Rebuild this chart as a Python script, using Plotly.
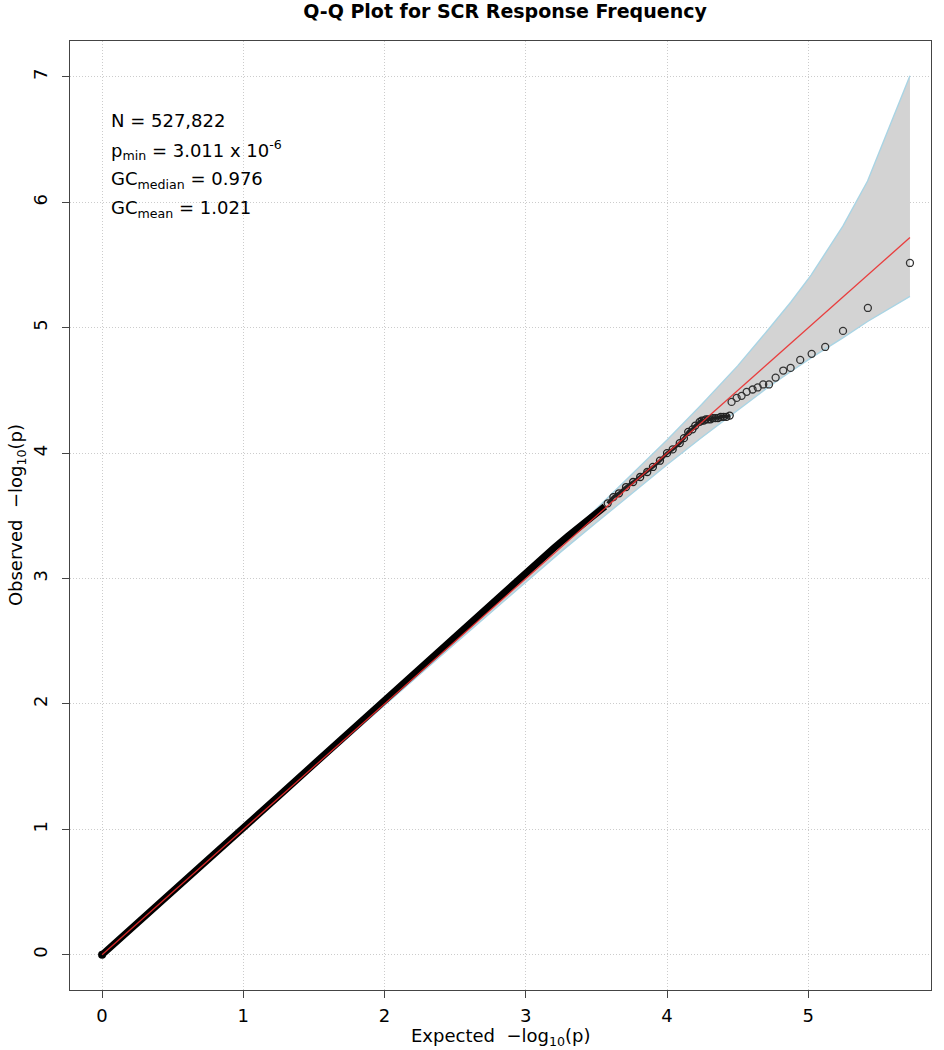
import plotly.graph_objects as go

# confidence band
band_x = [0.0, 1.0, 2.0, 2.5, 3.0, 3.25, 3.5, 3.72, 4.0, 4.245, 4.5, 4.72, 4.877, 5.02, 5.245, 5.42, 5.72]
band_up = [0.0, 1.003, 2.01, 2.518, 3.032, 3.29, 3.557, 3.795, 4.105, 4.388, 4.696, 4.99, 5.206, 5.42, 5.81, 6.17, 7.01]
band_lo = [0.0, 0.997, 1.99, 2.482, 2.970, 3.215, 3.447, 3.652, 3.908, 4.125, 4.345, 4.53, 4.651, 4.76, 4.92, 5.05, 5.25]

# dense part of the observed points
dense_exp = [0.0, 0.25, 0.5, 0.75, 1.0, 1.25, 1.5, 1.75, 2.0, 2.25, 2.5, 2.75, 2.9, 3.0, 3.1, 3.2, 3.3, 3.4, 3.5, 3.56]
dense_obs = [0.0, 0.25, 0.505, 0.76, 1.01, 1.265, 1.52, 1.775, 2.02, 2.28, 2.54, 2.8, 2.955, 3.055, 3.15, 3.245, 3.34, 3.43, 3.52, 3.575]

# overlapping circles
mid_exp = [3.58, 3.62, 3.66, 3.71, 3.76, 3.81, 3.86, 3.90, 3.95, 4.00, 4.04, 4.09, 4.12, 4.15, 4.18, 4.20,
           4.231, 4.245, 4.260, 4.275, 4.291, 4.308, 4.324, 4.342, 4.361, 4.380, 4.400, 4.421, 4.444]
mid_obs = [3.60, 3.65, 3.68, 3.73, 3.77, 3.81, 3.85, 3.89, 3.94, 4.00, 4.03, 4.08, 4.12, 4.17, 4.19, 4.22,
           4.25, 4.26, 4.26, 4.27, 4.27, 4.27, 4.28, 4.28, 4.28, 4.29, 4.29, 4.29, 4.30]

# top hits
tail_exp = [4.457, 4.493, 4.528, 4.564, 4.606, 4.642, 4.681, 4.722, 4.769, 4.823, 4.875, 4.943, 5.024, 5.120, 5.246, 5.422, 5.720]
tail_obs = [4.409, 4.441, 4.457, 4.489, 4.508, 4.524, 4.548, 4.548, 4.603, 4.659, 4.680, 4.744, 4.792, 4.847, 4.975, 5.158, 5.517]

diag = [0.0, 5.72]

stats = ["N = 527,822",
         "p<sub>min</sub> = 3.011 x 10<sup>-6</sup>",
         "GC<sub>median</sub> = 0.976",
         "GC<sub>mean</sub> = 1.021"]
stats_y = [6.65, 6.42, 6.18, 5.95]

FONT = "DejaVu Sans"

fig = go.Figure()

# grey band
fig.add_trace(go.Scatter(
    x=band_x + band_x[::-1],
    y=band_up + band_lo[::-1],
    fill='toself', fillcolor='#d3d3d3',
    line=dict(width=0), mode='lines', hoverinfo='skip',
))
fig.add_trace(go.Scatter(x=band_x, y=band_up, mode='lines', line=dict(color='#a9d4e4', width=1.4)))
fig.add_trace(go.Scatter(x=band_x, y=band_lo, mode='lines', line=dict(color='#a9d4e4', width=1.4)))

fig.add_trace(go.Scatter(
    x=dense_exp, y=dense_obs, mode='lines',
    line=dict(color='black', width=7),
))
fig.add_trace(go.Scatter(
    x=dense_exp[:1], y=dense_obs[:1], mode='markers',
    marker=dict(color='black', size=8),
))
fig.add_trace(go.Scatter(
    x=mid_exp, y=mid_obs, mode='lines+markers',
    line=dict(color='#222', width=3.5),
    marker=dict(symbol='circle-open', size=7, color='#222', line=dict(width=1.3)),
))
fig.add_trace(go.Scatter(
    x=tail_exp, y=tail_obs, mode='markers',
    marker=dict(symbol='circle-open', size=7, color='#333', line=dict(width=1.3)),
))

fig.add_trace(go.Scatter(x=diag, y=diag, mode='lines', line=dict(color='rgba(235,45,45,0.9)', width=1.3)))

for t, yy in zip(stats, stats_y):
    fig.add_annotation(x=0.05, y=yy, xref='x', yref='y', text=t, showarrow=False,
                       xanchor='left', yanchor='middle', font=dict(size=18, color='black', family=FONT))

fig.add_annotation(x=0.5, y=-0.05, xref='paper', yref='paper', text="Expected  \u2212log<sub>10</sub>(p)",
                   showarrow=False, xanchor='center', yanchor='middle', font=dict(size=18, color='black', family=FONT))
fig.add_annotation(x=-0.062, y=0.5, xref='paper', yref='paper', text="Observed  \u2212log<sub>10</sub>(p)",
                   textangle=-90, showarrow=False, xanchor='center', yanchor='middle',
                   font=dict(size=18, color='black', family=FONT))

axis_common = dict(
    showline=True, linecolor='#444', linewidth=1, mirror=True,
    ticks='outside', ticklen=7, tickcolor='#444', tickwidth=1,
    showgrid=True, gridcolor='#cccccc', griddash='1px,2px', gridwidth=1,
    zeroline=False, dtick=1, tick0=0, automargin=False,
    tickfont=dict(size=18, color='black', family=FONT),
)

fig.update_layout(
    width=944, height=1050,
    margin=dict(l=70, r=13, t=41, b=60),
    plot_bgcolor='white', paper_bgcolor='white',
    showlegend=False,
    title=dict(text="<b>Q-Q Plot for SCR Response Frequency</b>", x=0.535, xanchor='center',
               y=0.9895, yanchor='middle', automargin=False,
               font=dict(size=19, color='black', family=FONT)),
    xaxis=dict(range=[-0.227, 5.869], ticklabelstandoff=2, **axis_common),
    yaxis=dict(range=[-0.281, 7.287], tickangle=-90, ticklabelstandoff=8, **axis_common),
)

# drop the default 8px body margin so the figure fills the window
fig.write_html("out.html", config={'displayModeBar': False},
               post_script="document.body.style.margin='0px';")
